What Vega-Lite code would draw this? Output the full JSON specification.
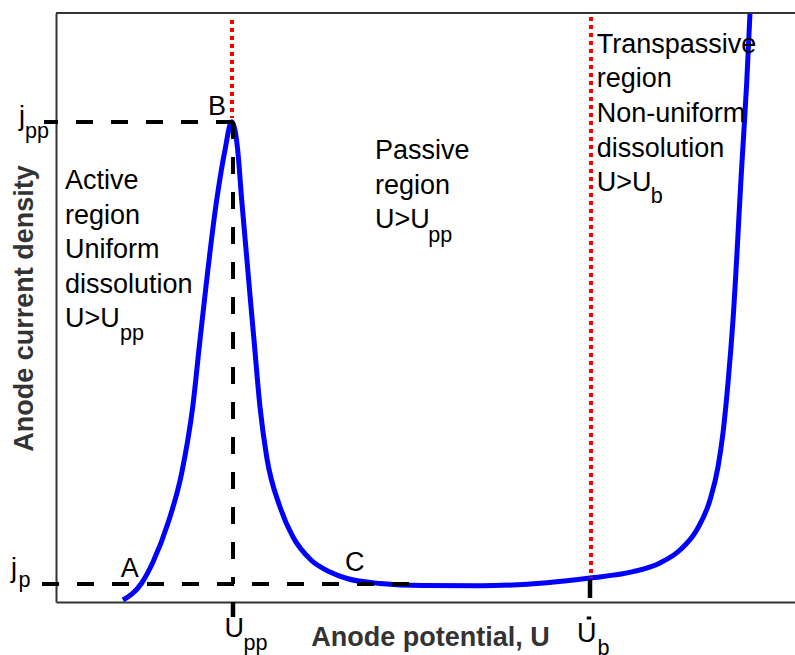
{
  "$schema": "https://vega.github.io/schema/vega-lite/v6.json",
  "width": 739,
  "height": 589,
  "autosize": {"type": "none"},
  "padding": {"left": 56, "top": 13, "right": 0, "bottom": 53},
  "background": "white",
  "config": {
    "view": {"stroke": null},
    "font": "Liberation Sans",
    "axis": {"labels": false, "ticks": false, "grid": false, "domain": true, "domainColor": "#333333", "domainWidth": 2,
      "titleFont": "Liberation Sans", "titleFontSize": 27, "titleFontWeight": "bold", "titleColor": "#333333",
      "titleBaseline": "alphabetic", "titleAlign": "center"},
    "axisX": {"titleX": 374, "titleY": 43, "titleAngle": 0},
    "axisY": {"titleAngle": -90, "titleX": -23.5, "titleY": 295}
  },
  "datasets": {
    "curve": [
      {"u": 67, "j": 2}, {"u": 85.7, "j": 19}, {"u": 97, "j": 40}, {"u": 112, "j": 79},
      {"u": 125.7, "j": 129}, {"u": 136.7, "j": 195}, {"u": 144, "j": 262},
      {"u": 160.7, "j": 402}, {"u": 169, "j": 452}, {"u": 175.7, "j": 480.3}, {"u": 181.7, "j": 452},
      {"u": 185.7, "j": 402}, {"u": 198, "j": 262}, {"u": 204, "j": 195},
      {"u": 210.7, "j": 145}, {"u": 224, "j": 95}, {"u": 237, "j": 65}, {"u": 255, "j": 42},
      {"u": 274, "j": 30}, {"u": 291, "j": 23.5}, {"u": 324, "j": 18.5}, {"u": 367, "j": 16.5},
      {"u": 424, "j": 16.3}, {"u": 491, "j": 19.3}, {"u": 534, "j": 24}, {"u": 577, "j": 30.3},
      {"u": 604, "j": 39}, {"u": 624, "j": 52}, {"u": 640.7, "j": 72}, {"u": 654, "j": 102},
      {"u": 662, "j": 135}, {"u": 667, "j": 169}, {"u": 672, "j": 219}, {"u": 677, "j": 282},
      {"u": 685.7, "j": 435}, {"u": 690.7, "j": 519}, {"u": 694, "j": 589}
    ],
    "segments": [
      {"style": "dash", "x": 177, "x2": -12, "y": 480, "y2": 480},
      {"style": "dash", "x": 177, "x2": 177, "y": 480, "y2": 18},
      {"style": "dash", "x": -14, "x2": 371, "y": 18, "y2": 18},
      {"style": "red", "x": 176, "x2": 176, "y": 582, "y2": 484},
      {"style": "red", "x": 535, "x2": 535, "y": 585, "y2": 24},
      {"style": "solid", "x": 177, "x2": 177, "y": 0, "y2": -15},
      {"style": "solid", "x": 534, "x2": 534, "y": 22, "y2": 4},
      {"style": "solid", "x": 533, "x2": 533, "y": -14.5, "y2": -17.5},
      {"style": "frame", "x": 0, "x2": 739, "y": 589, "y2": 589}
    ],
    "labels": [
      {"role": "main", "text": "Active", "x": 9, "y": 412.7},
      {"role": "main", "text": "region", "x": 9, "y": 378},
      {"role": "main", "text": "Uniform", "x": 9, "y": 343.7},
      {"role": "main", "text": "dissolution", "x": 9, "y": 309.3},
      {"role": "main", "text": "U>U", "x": 9, "y": 275.3},
      {"role": "sub", "text": "pp", "x": 64, "y": 262},
      {"role": "main", "text": "Passive", "x": 319, "y": 442.7},
      {"role": "main", "text": "region", "x": 319, "y": 408},
      {"role": "main", "text": "U>U", "x": 319, "y": 373.7},
      {"role": "sub", "text": "pp", "x": 372.3, "y": 360.3},
      {"role": "main", "text": "Transpassive", "x": 540.7, "y": 548.7},
      {"role": "main", "text": "region", "x": 540.7, "y": 514.7},
      {"role": "main", "text": "Non-uniform", "x": 540.7, "y": 480.3},
      {"role": "main", "text": "dissolution", "x": 540.7, "y": 445.3},
      {"role": "main", "text": "U>U", "x": 540.7, "y": 411.3},
      {"role": "sub", "text": "b", "x": 594.7, "y": 398.7},
      {"role": "main", "text": "B", "x": 152, "y": 487},
      {"role": "main", "text": "A", "x": 64.7, "y": 25.3},
      {"role": "main", "text": "C", "x": 289, "y": 31.3},
      {"role": "main", "text": "j", "x": -37, "y": 477},
      {"role": "sub", "text": "pp", "x": -31, "y": 464},
      {"role": "main", "text": "j", "x": -45, "y": 25},
      {"role": "sub", "text": "p", "x": -37.5, "y": 15},
      {"role": "main", "text": "U", "x": 168.5, "y": -35},
      {"role": "sub", "text": "pp", "x": 187.6, "y": -48},
      {"role": "main", "text": "U", "x": 521, "y": -39.7},
      {"role": "sub", "text": "b", "x": 541.5, "y": -52.5}
    ]
  },
  "layer": [
    {
      "data": {"name": "curve"},
      "mark": {"type": "line", "color": "#0000ff", "strokeWidth": 5, "interpolate": "monotone"},
      "encoding": {
        "x": {"field": "u", "type": "quantitative", "scale": {"domain": [0, 739], "nice": false, "zero": false}, "axis": {"title": "Anode potential, U"}},
        "y": {"field": "j", "type": "quantitative", "scale": {"domain": [0, 589], "nice": false, "zero": false}, "axis": {"title": "Anode current density"}}
      }
    },
    {
      "data": {"name": "segments"},
      "transform": [{"filter": "datum.style == 'dash'"}],
      "mark": {"type": "rule", "color": "black", "strokeWidth": 4, "strokeDash": [17, 18]},
      "encoding": {
        "x": {"field": "x", "type": "quantitative", "scale": {"domain": [0, 739], "nice": false, "zero": false}, "axis": {"title": "Anode potential, U"}},
        "x2": {"field": "x2"},
        "y": {"field": "y", "type": "quantitative", "scale": {"domain": [0, 589], "nice": false, "zero": false}, "axis": {"title": "Anode current density"}},
        "y2": {"field": "y2"}
      }
    },
    {
      "data": {"name": "segments"},
      "transform": [{"filter": "datum.style == 'red'"}],
      "mark": {"type": "rule", "color": "#ff0000", "strokeWidth": 4, "strokeDash": [4, 4]},
      "encoding": {
        "x": {"field": "x", "type": "quantitative", "scale": {"domain": [0, 739], "nice": false, "zero": false}, "axis": {"title": "Anode potential, U"}},
        "x2": {"field": "x2"},
        "y": {"field": "y", "type": "quantitative", "scale": {"domain": [0, 589], "nice": false, "zero": false}, "axis": {"title": "Anode current density"}},
        "y2": {"field": "y2"}
      }
    },
    {
      "data": {"name": "segments"},
      "transform": [{"filter": "datum.style == 'solid'"}],
      "mark": {"type": "rule", "color": "black", "strokeWidth": 4.5},
      "encoding": {
        "x": {"field": "x", "type": "quantitative", "scale": {"domain": [0, 739], "nice": false, "zero": false}, "axis": {"title": "Anode potential, U"}},
        "x2": {"field": "x2"},
        "y": {"field": "y", "type": "quantitative", "scale": {"domain": [0, 589], "nice": false, "zero": false}, "axis": {"title": "Anode current density"}},
        "y2": {"field": "y2"}
      }
    },
    {
      "data": {"name": "segments"},
      "transform": [{"filter": "datum.style == 'frame'"}],
      "mark": {"type": "rule", "color": "#333333", "strokeWidth": 2},
      "encoding": {
        "x": {"field": "x", "type": "quantitative", "scale": {"domain": [0, 739], "nice": false, "zero": false}, "axis": {"title": "Anode potential, U"}},
        "x2": {"field": "x2"},
        "y": {"field": "y", "type": "quantitative", "scale": {"domain": [0, 589], "nice": false, "zero": false}, "axis": {"title": "Anode current density"}},
        "y2": {"field": "y2"}
      }
    },
    {
      "data": {"name": "labels"},
      "transform": [{"filter": "datum.role == 'main'"}],
      "mark": {"type": "text", "font": "Liberation Sans", "fontSize": 27, "align": "left", "baseline": "alphabetic", "color": "black"},
      "encoding": {
        "x": {"field": "x", "type": "quantitative", "scale": {"domain": [0, 739], "nice": false, "zero": false}, "axis": {"title": "Anode potential, U"}},
        "y": {"field": "y", "type": "quantitative", "scale": {"domain": [0, 589], "nice": false, "zero": false}, "axis": {"title": "Anode current density"}},
        "text": {"field": "text"}
      }
    },
    {
      "data": {"name": "labels"},
      "transform": [{"filter": "datum.role == 'sub'"}],
      "mark": {"type": "text", "font": "Liberation Sans", "fontSize": 21.6, "align": "left", "baseline": "alphabetic", "color": "black"},
      "encoding": {
        "x": {"field": "x", "type": "quantitative", "scale": {"domain": [0, 739], "nice": false, "zero": false}, "axis": {"title": "Anode potential, U"}},
        "y": {"field": "y", "type": "quantitative", "scale": {"domain": [0, 589], "nice": false, "zero": false}, "axis": {"title": "Anode current density"}},
        "text": {"field": "text"}
      }
    }
  ]
}
